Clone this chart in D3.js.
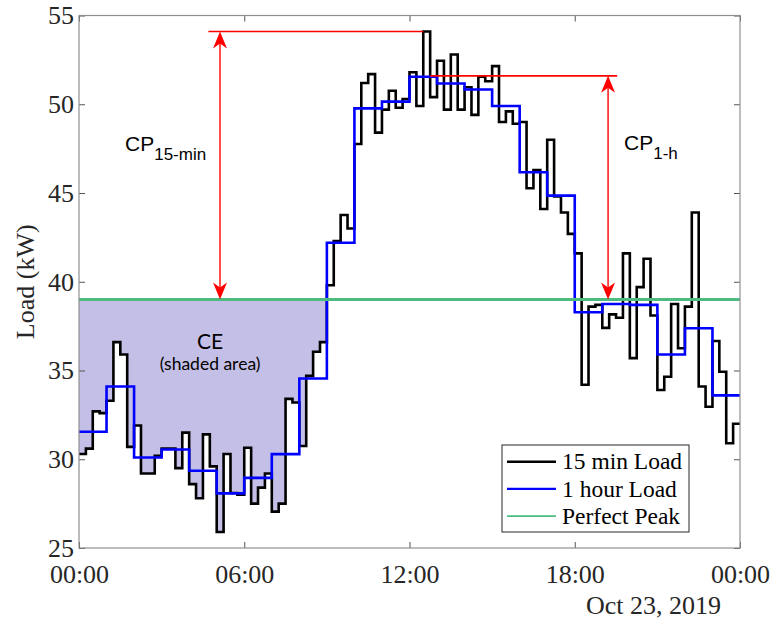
<!DOCTYPE html>
<html>
<head>
<meta charset="utf-8">
<script src="https://cdn.jsdelivr.net/npm/d3@7"></script>
<style>
  body { margin: 0; background: #fff; }
  .axis text { font-family: "Liberation Serif", "Times New Roman", serif; font-size: 26px; fill: #262626; }
  .axis line { stroke: #555; }
</style>
</head>
<body>
<div id="chart"></div>
<script>
// 15-minute load (kW), 96 intervals on Oct 23, 2019
const load15 = [
  30.3, 30.6, 32.7, 32.6,   33.3, 36.6, 35.9, 30.7,
  31.9, 29.2, 29.2, 30.2,   30.6, 30.6, 29.5, 31.5,
  28.6, 27.8, 31.4, 29.6,   25.9, 30.3, 28.1, 28.0,
  30.65, 27.5, 28.4, 29.2,  27.05, 27.5, 33.4, 33.2,
  30.75, 34.7, 36.06, 36.6, 39.8, 42.3, 43.76, 43.0,
  47.76, 51.2, 51.7, 48.4,  49.7, 50.76, 49.8, 50.3,
  51.8, 49.9, 54.1, 50.4,   52.45, 49.7, 52.8, 49.7,
  50.96, 49.4, 51.55, 51.3, 52.15, 49.0, 49.6, 48.9,
  49.0, 45.27, 46.3, 44.1,  48.0, 44.8, 43.9, 42.7,
  41.6, 34.2, 38.6, 38.7,   37.4, 38.16, 37.97, 41.6,
  35.7, 39.7, 41.3, 38.1,   33.9, 34.65, 38.75, 36.25,
  38.6, 43.9, 34.1, 32.96,  36.66, 34.93, 30.9, 32.0
];
// hourly load (kW), 24 intervals
const load1h = [
  31.55, 34.1, 30.1, 30.55, 29.35, 28.08, 28.95, 30.29,
  34.55, 42.2, 49.77, 50.15, 51.55, 51.17, 50.83, 49.9,
  46.17, 44.85, 38.28, 38.75, 38.7, 35.9, 37.38, 33.6
];
const perfectPeak = 39.0;
const ceEndIndex = 36;          // shaded CE area covers 00:00 - 09:00
const yTicks = [25, 30, 35, 40, 45, 50, 55];
const xTickHours = [0, 6, 12, 18, 24];
const legendLabels = ['15 min Load', '1 hour Load', 'Perfect Peak'];
const dateLabel = 'Oct 23, 2019';

// annotations in data units (hours, kW)
const cp15 = { hour: 5.12, from: 4.7, to: 12.5, top: 54.1 };
const cp1h = { hour: 19.21, from: 12.75, to: 19.54, top: 51.6 };

const W = 774, H = 619;
const plot = { left: 79, right: 740, top: 15.5, bottom: 548 };

const day0 = new Date(Date.UTC(2019, 9, 23));
const at = h => new Date(+day0 + h * 3600000);

const svg = d3.select('#chart').append('svg')
  .attr('width', W).attr('height', H)
  .style('display', 'block');

const x = d3.scaleUtc().domain([at(0), at(24)]).range([plot.left, plot.right]);
const y = d3.scaleLinear().domain([25, 55]).range([plot.bottom, plot.top]);

const colBlack = '#000', colBlue = '#0000ff', colGreen = '#4dba80', colRed = '#ff0000';

// step series points
const pts15 = load15.map((v, i) => [at(i / 4), v]);
pts15.push([at(24), load15[load15.length - 1]]);
const pts1h = load1h.map((v, i) => [at(i), v]);
pts1h.push([at(24), load1h[load1h.length - 1]]);

const step = d3.line().x(d => x(d[0])).y(d => y(d[1])).curve(d3.curveStepAfter);

// CE shaded area
const ceData = load15.slice(0, ceEndIndex).map((v, i) => [at(i / 4), v]);
ceData.push([at(ceEndIndex / 4), load15[ceEndIndex - 1]]);
const ceArea = d3.area()
  .x(d => x(d[0]))
  .y0(y(perfectPeak))
  .y1(d => y(d[1]))
  .curve(d3.curveStepAfter);

svg.append('path').datum(ceData)
  .attr('fill', '#c4bfe6').attr('d', ceArea);

svg.append('path').datum(pts15)
  .attr('fill', 'none').attr('stroke', colBlack).attr('stroke-width', 2.6)
  .attr('d', step);

svg.append('path').datum(pts1h)
  .attr('fill', 'none').attr('stroke', colBlue).attr('stroke-width', 2.6)
  .attr('d', step);

svg.append('line')
  .attr('x1', x(at(0))).attr('x2', x(at(24)))
  .attr('y1', y(perfectPeak)).attr('y2', y(perfectPeak))
  .attr('stroke', colGreen).attr('stroke-width', 3);

// axes
const xTickDates = xTickHours.map(at);
svg.append('g').attr('class', 'axis')
  .attr('transform', `translate(0,${plot.bottom})`)
  .call(d3.axisBottom(x).tickValues(xTickDates).tickFormat(d3.utcFormat('%H:%M'))
    .tickSizeInner(-6).tickSizeOuter(0).tickPadding(17))
  .call(g => g.select('.domain').remove());
svg.append('g').attr('class', 'axis')
  .attr('transform', `translate(0,${plot.top})`)
  .call(d3.axisTop(x).tickValues(xTickDates).tickFormat('').tickSizeInner(-6).tickSizeOuter(0))
  .call(g => g.select('.domain').remove());
svg.append('g').attr('class', 'axis')
  .attr('transform', `translate(${plot.left},0)`)
  .call(d3.axisLeft(y).tickValues(yTicks).tickSizeInner(-6).tickSizeOuter(0).tickPadding(5))
  .call(g => g.select('.domain').remove());
svg.append('g').attr('class', 'axis')
  .attr('transform', `translate(${plot.right},0)`)
  .call(d3.axisRight(y).tickValues(yTicks).tickFormat('').tickSizeInner(-6).tickSizeOuter(0))
  .call(g => g.select('.domain').remove());

svg.append('rect')
  .attr('x', plot.left).attr('y', plot.top)
  .attr('width', plot.right - plot.left).attr('height', plot.bottom - plot.top)
  .attr('fill', 'none').attr('stroke', '#8f8f8f').attr('stroke-width', 1.2);

svg.append('text')
  .attr('transform', `translate(34,${(plot.top + plot.bottom) / 2}) rotate(-90)`)
  .attr('text-anchor', 'middle')
  .style('font-family', '"Liberation Serif", serif').style('font-size', '26px').style('fill', '#262626')
  .text('Load (kW)');

svg.append('text')
  .attr('x', 721).attr('y', 614)
  .attr('text-anchor', 'end')
  .style('font-family', '"Liberation Serif", serif').style('font-size', '26px').style('fill', '#262626')
  .text(dateLabel);

// red annotation lines and double arrows
function arrowHead(px, py, dir) {
  // dir = 1 points up, -1 points down
  const l = 17, b = 12, w = 7;
  return `M${px},${py} L${px - w},${py + dir * l} L${px},${py + dir * b} L${px + w},${py + dir * l} Z`;
}
[cp15, cp1h].forEach(a => {
  const ty = y(a.top);
  svg.append('line')
    .attr('x1', x(at(a.from))).attr('x2', x(at(a.to)))
    .attr('y1', ty).attr('y2', ty)
    .attr('stroke', colRed).attr('stroke-width', 1.6);
  const ax = x(at(a.hour));
  svg.append('line')
    .attr('x1', ax).attr('x2', ax)
    .attr('y1', ty + 10).attr('y2', y(perfectPeak) - 10)
    .attr('stroke', colRed).attr('stroke-width', 1.4);
  svg.append('path').attr('d', arrowHead(ax, ty, 1)).attr('fill', colRed);
  svg.append('path').attr('d', arrowHead(ax, y(perfectPeak), -1)).attr('fill', colRed);
});

// text annotations
function cpLabel(hour, value, sub) {
  const t = svg.append('text')
    .attr('x', x(at(hour))).attr('y', y(value))
    .style('font-family', '"Liberation Sans", Arial, sans-serif').style('fill', '#000');
  t.append('tspan').style('font-size', '21px').text('CP');
  t.append('tspan').attr('dy', 9).style('font-size', '17px').text(sub);
}
cpLabel(1.67, 47.38, '15-min');
cpLabel(19.79, 47.42, '1-h');

svg.append('text')
  .attr('x', x(at(4.76))).attr('y', y(36.2))
  .attr('text-anchor', 'middle')
  .style('font-family', 'Lato, "Liberation Sans", sans-serif').style('font-size', '21px').style('fill', '#000')
  .text('CE');
svg.append('text')
  .attr('x', x(at(4.76))).attr('y', y(35.05))
  .attr('text-anchor', 'middle')
  .style('font-family', 'Lato, "Liberation Sans", sans-serif').style('font-size', '17.5px').style('fill', '#000')
  .text('(shaded area)');

// legend
const leg = svg.append('g').attr('transform', 'translate(502,445)');
leg.append('rect').attr('width', 187).attr('height', 87)
  .attr('fill', '#fff').attr('stroke', '#262626').attr('stroke-width', 1);
const legColors = [colBlack, colBlue, colGreen];
const legWidths = [2.4, 2.4, 1.6];
legendLabels.forEach((lab, i) => {
  const ly = 16.7 + i * 27.2;
  leg.append('line').attr('x1', 5).attr('x2', 54).attr('y1', ly).attr('y2', ly)
    .attr('stroke', legColors[i]).attr('stroke-width', legWidths[i]);
  leg.append('text').attr('x', 60).attr('y', ly).attr('dy', '0.33em')
    .style('font-family', '"Liberation Serif", serif').style('font-size', '23.5px').style('fill', '#000')
    .text(lab);
});
</script>
</body>
</html>
